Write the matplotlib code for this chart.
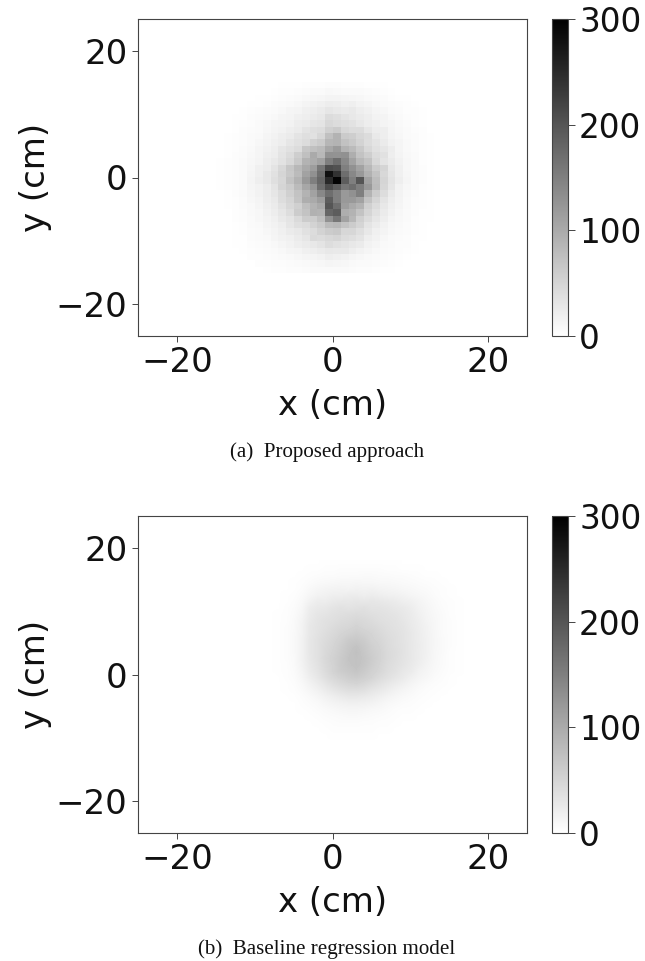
import numpy as np
import matplotlib
matplotlib.use("Agg")
import matplotlib.pyplot as plt

tick_values = [-20, 0, 20]
cbar_ticks = [0, 100, 200, 300]
captions = ["(a)  Proposed approach", "(b)  Baseline regression model"]
x_label = "x (cm)"
y_label = "y (cm)"

# hand-read counts, 1 cm bins; first row is the top of the panel
a_x_start, a_y_top = -15, 15
grid_a = [
[0,0,0,0,0,1,1,1,2,2,2,3,3,3,4,4,3,3,3,2,2,2,1,1,1,1,0,0,0,0],
[0,0,0,0,1,1,1,2,3,3,4,5,6,7,9,8,7,7,6,5,4,3,2,1,1,1,0,0,0,0],
[0,0,1,1,1,2,2,3,4,5,7,9,10,11,14,13,12,11,10,8,6,5,3,2,2,1,1,0,0,0],
[0,0,1,1,2,2,3,5,7,8,10,13,16,18,22,20,17,19,15,12,9,7,5,4,3,2,1,1,0,0],
[0,1,1,2,3,4,5,7,9,12,14,18,20,24,30,26,24,26,20,17,12,10,7,5,3,3,2,1,0,0],
[1,1,2,2,4,5,7,9,12,14,18,20,24,28,42,38,32,28,24,20,15,14,9,6,4,3,2,1,1,0],
[1,1,2,3,4,6,9,12,14,16,22,24,30,32,46,42,38,34,28,22,18,13,11,8,5,3,2,1,1,0],
[1,1,2,4,5,7,10,13,16,20,24,32,38,40,56,62,46,42,42,30,22,20,12,9,6,4,3,1,1,0],
[1,2,3,4,6,8,12,16,20,24,32,38,36,48,74,88,62,58,48,42,26,20,14,10,7,5,3,2,1,0],
[1,2,3,4,7,10,14,18,22,30,36,42,54,62,86,90,72,64,52,40,32,24,16,12,8,5,3,2,1,1],
[1,2,3,5,8,12,16,20,30,36,42,66,74,80,104,118,88,80,64,46,36,30,22,12,8,5,3,2,1,1],
[1,2,4,5,9,12,18,22,32,42,58,74,100,84,128,126,130,96,70,58,42,36,20,14,9,6,3,2,1,1],
[2,3,4,6,10,14,20,26,34,46,64,90,98,110,150,170,140,110,84,70,46,32,24,16,10,6,3,2,1,1],
[2,3,4,7,11,18,22,32,46,66,84,100,116,160,210,205,150,130,110,84,60,50,28,18,10,6,4,2,1,1],
[2,3,4,7,12,18,26,36,50,64,80,110,130,170,280,240,170,140,120,92,70,46,30,18,11,7,4,2,1,1],
[2,3,4,7,14,20,26,38,48,70,90,120,150,180,250,295,190,150,200,110,78,50,32,20,12,7,4,2,1,1],
[2,3,4,6,12,16,22,32,50,60,80,104,124,170,210,190,160,170,150,120,80,48,30,16,10,6,3,2,1,1],
[1,2,4,6,11,16,22,30,42,56,70,90,110,140,170,150,120,130,150,90,60,40,24,15,9,5,3,2,1,1],
[1,2,3,5,10,14,20,26,40,50,68,96,100,116,190,150,120,120,110,70,50,32,20,14,8,4,3,2,1,0],
[1,2,3,5,8,12,18,24,34,46,56,76,90,100,200,170,114,100,90,56,42,28,18,12,8,4,3,2,1,0],
[1,1,3,4,8,10,16,22,30,40,60,70,92,90,180,190,96,90,70,50,36,24,16,10,7,4,2,2,1,0],
[1,1,3,4,6,10,14,18,26,32,44,60,60,76,130,160,110,84,56,42,30,20,12,9,6,3,2,2,1,0],
[1,1,2,3,6,8,12,16,20,30,38,42,52,62,80,84,70,60,50,32,24,16,10,8,5,3,2,1,1,0],
[0,1,2,3,5,7,10,14,18,24,28,36,42,52,60,64,48,48,38,28,18,14,9,6,5,3,2,1,0,0],
[0,1,2,2,5,6,8,12,16,18,24,30,44,42,46,50,42,38,32,20,16,10,7,5,4,2,2,1,0,0],
[0,1,2,2,4,5,7,9,12,16,20,24,28,32,40,36,32,28,24,16,12,8,6,4,4,2,1,1,0,0],
[0,0,1,2,3,4,5,7,9,12,14,18,20,24,28,26,26,20,16,12,9,6,5,4,3,2,1,0,0,0],
[0,0,1,1,3,3,4,5,6,8,10,12,14,16,20,18,16,12,10,8,6,5,4,3,2,1,1,0,0,0],
[0,0,0,1,1,3,3,4,4,5,7,8,9,10,12,11,10,8,7,6,5,4,3,2,1,1,0,0,0,0],
[0,0,0,0,1,1,2,3,3,4,4,5,6,6,7,6,6,5,4,4,3,2,2,1,1,0,0,0,0,0],
]

b_x_start, b_y_top = -9.5, 18
grid_b = [
[0,0,0,0,1,1,1,1,2,2,2,2,2,2,2,2,2,2,1,1,1,1,0,0,0,0,0,0,0,0],
[0,0,0,0,1,1,2,2,3,3,4,4,4,4,4,4,3,3,2,2,2,1,1,1,0,0,0,0,0,0],
[0,0,0,1,1,2,3,4,5,5,6,6,6,7,7,6,6,5,5,4,3,2,2,1,1,0,0,0,0,0],
[0,0,0,1,2,3,5,7,8,9,10,10,11,10,10,9,9,8,7,6,5,4,3,2,1,1,0,0,0,0],
[0,0,1,1,2,4,8,11,13,14,15,14,16,15,16,14,13,12,10,9,7,6,4,3,2,1,1,0,0,0],
[0,0,1,2,3,6,11,15,17,20,20,22,22,20,22,20,18,17,15,12,10,8,5,3,2,1,1,0,0,0],
[0,0,1,2,4,8,16,22,22,26,28,28,30,28,30,28,26,24,20,18,14,10,7,4,3,2,1,0,0,0],
[0,1,1,3,5,10,22,26,28,32,35,33,35,37,33,33,31,28,26,22,16,12,8,5,3,2,1,0,0,0],
[0,1,2,3,6,12,24,30,32,36,38,40,42,40,38,36,34,32,28,24,18,13,9,6,3,2,1,0,0,0],
[0,1,2,3,7,14,26,32,36,38,42,44,47,45,42,38,36,34,30,25,20,14,10,6,4,2,1,1,0,0],
[0,1,2,4,7,15,28,33,37,42,46,48,52,48,46,42,38,35,32,26,21,16,10,6,4,2,1,1,0,0],
[0,1,2,4,8,15,28,34,40,45,50,54,58,54,50,45,40,37,33,28,22,16,11,6,4,2,1,1,0,0],
[0,1,2,4,8,16,29,36,42,48,54,62,64,60,52,48,42,38,33,28,22,17,11,7,4,2,1,1,0,0],
[0,1,2,4,8,16,29,36,44,50,58,66,70,64,56,50,43,38,34,28,23,17,11,7,4,2,1,1,0,0],
[0,1,2,4,8,16,29,36,45,52,60,68,74,66,58,52,44,40,34,28,22,17,10,7,3,2,1,1,0,0],
[0,1,2,4,7,16,28,36,46,54,62,70,72,68,60,52,44,39,33,28,22,16,10,6,3,2,1,0,0,0],
[0,1,2,3,7,15,26,34,44,52,62,68,72,66,58,50,42,37,32,26,20,14,9,6,3,2,1,0,0,0],
[0,1,2,3,6,13,24,32,42,52,60,64,68,62,54,48,40,35,28,24,16,12,8,5,3,2,1,0,0,0],
[0,0,1,3,5,11,20,28,38,46,52,58,60,56,50,42,36,30,25,18,13,10,6,4,2,1,1,0,0,0],
[0,0,1,2,4,8,15,22,30,38,44,48,50,46,40,34,28,23,18,13,9,6,4,3,2,1,0,0,0,0],
[0,0,1,2,3,6,11,16,23,29,34,38,38,36,30,26,21,16,12,9,6,4,3,2,1,0,0,0,0,0],
[0,0,0,1,2,4,7,11,16,20,24,27,27,25,22,18,14,11,8,6,4,3,2,1,1,0,0,0,0,0],
[0,0,0,1,1,3,5,7,11,14,16,18,18,17,15,12,9,7,5,4,3,2,1,1,0,0,0,0,0,0],
[0,0,0,0,1,2,3,5,7,9,11,12,12,11,9,8,6,4,3,3,2,1,1,0,0,0,0,0,0,0],
[0,0,0,0,1,1,2,3,5,6,7,8,8,7,6,5,4,3,2,2,1,1,0,0,0,0,0,0,0,0],
[0,0,0,0,0,1,1,2,3,4,5,5,5,4,4,3,3,2,1,1,1,0,0,0,0,0,0,0,0,0],
[0,0,0,0,0,0,1,1,2,3,3,3,3,3,3,2,2,1,1,1,0,0,0,0,0,0,0,0,0,0],
[0,0,0,0,0,0,0,1,1,2,2,2,2,2,2,1,1,1,1,0,0,0,0,0,0,0,0,0,0,0],
[0,0,0,0,0,0,0,0,1,1,1,1,1,1,1,1,0,0,0,0,0,0,0,0,0,0,0,0,0,0],
[0,0,0,0,0,0,0,0,0,0,1,1,1,1,1,0,0,0,0,0,0,0,0,0,0,0,0,0,0,0],
]

W, H = 645, 961
fig = plt.figure(figsize=(W / 100, H / 100), dpi=100)
plt.rcParams["font.family"] = "DejaVu Sans"
FS = 24.5
AX_COLOR = "#444444"
TEXT_COLOR = "#111111"


def rect(l, t, r, b):
    return [l / W, 1 - b / H, (r - l) / W, (b - t) / H]


def panel(grid, x0, ytop, top, bottom, interp, cap, cap_y):
    ax = fig.add_axes(rect(138, top, 527, bottom))
    g = np.array(grid, dtype=float)
    nr, nc = g.shape
    im = ax.imshow(g, cmap="gray_r", vmin=0, vmax=300, aspect="auto",
                   extent=[x0, x0 + nc, ytop - nr, ytop], interpolation=interp)
    ax.set_xlim(-25, 25)
    ax.set_ylim(-25, 25)
    ax.set_xticks(tick_values)
    ax.set_yticks(tick_values)
    ax.tick_params(labelsize=FS, length=4.5, width=0.7, color=AX_COLOR, pad=3,
                   labelcolor=TEXT_COLOR)
    ax.set_xlabel(x_label, fontsize=FS, labelpad=7, color=TEXT_COLOR)
    ax.set_ylabel(y_label, fontsize=FS, labelpad=3, color=TEXT_COLOR)
    for s in ax.spines.values():
        s.set_linewidth(0.8)
        s.set_color(AX_COLOR)
    cax = fig.add_axes(rect(552, top, 568, bottom))
    cb = fig.colorbar(im, cax=cax, ticks=cbar_ticks)
    cb.ax.tick_params(labelsize=23.5, length=5, width=0.7, color=AX_COLOR, pad=3,
                      labelcolor=TEXT_COLOR)
    cb.outline.set_linewidth(0.8)
    cb.outline.set_edgecolor(AX_COLOR)
    fig.text(327 / W, 1 - cap_y / H, cap, family="Liberation Serif", fontsize=15.1,
             ha="center", va="center", color="#111111")


panel(grid_a, a_x_start, a_y_top, 19, 336, "nearest", captions[0], 452)
panel(grid_b, b_x_start, b_y_top, 516, 833, "bilinear", captions[1], 949)
fig.savefig("out.png", dpi=100)
